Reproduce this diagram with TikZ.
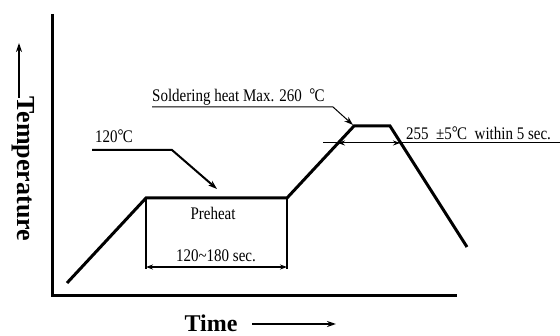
\documentclass[tikz,border=0pt]{standalone}
\usepackage{fontspec}
\setmainfont{Liberation Serif}
\usetikzlibrary{arrows.meta}
\newcommand{\degC}{\raisebox{0.1ex}{°}\kern-0.05em C}
\newcommand{\tall}[1]{\scalebox{1}[1.18]{#1}}
\begin{document}
\begin{tikzpicture}[x=1pt,y=-1pt,
  lbl/.style={inner sep=0pt,font=\fontsize{15}{15}\selectfont},
  bigl/.style={inner sep=0pt,font=\fontsize{24}{24}\selectfont\bfseries},
  axis/.style={line width=3pt},
  prof/.style={line width=3pt,line join=miter},
  lead/.style={line width=2pt},
  thin/.style={line width=1pt},
  tip/.style={-{Stealth[length=9pt,width=6pt]}},
  stip/.style={-{Stealth[length=7pt,width=5pt]}}]
\useasboundingbox (0,0) rectangle (560,336);
% axes
\coordinate (o) at (52,296);
\coordinate (ytop) at (52,14);
\coordinate (xend) at (457,296);
\draw[axis] (ytop) -- (o) -- (xend);
% profile
\coordinate (p0) at (67,283);
\coordinate (p1) at (146,198);
\coordinate (p2) at (287,198);
\coordinate (p3) at (354,126);
\coordinate (p4) at (390,126);
\coordinate (p5) at (467,247);
\draw[prof] (p0) -- (p1) -- (p2) -- (p3) -- (p4) -- (p5);
% preheat box
\coordinate (b1) at (146,269);
\coordinate (b2) at (287,269);
\draw[lead] (p1) -- (b1);
\draw[lead] (p2) -- (b2);
\coordinate (d1) at (146,267);
\coordinate (d2) at (287,267);
\coordinate (dm) at (216,267);
\draw[line width=1.3pt,stip] (dm) -- (d1);
\draw[line width=1.3pt,stip] (dm) -- (d2);
\node[lbl] (pre) at (213,213) {\tall{Preheat}};
\node[lbl] (dur) at (216,256) {\tall{120\textasciitilde180 sec.}};
% 120 C
\node[lbl,anchor=west] (t120) at (95,136) {\tall{120\degC}};
\coordinate (l1) at (92,150);
\coordinate (l2) at (172,150);
\coordinate (l3) at (217,189);
\draw[lead,tip] (l1) -- (l2) -- (l3);
% soldering
\node[lbl,anchor=west] (sold) at (152,97) {\tall{Soldering heat Max. 260 \ \degC}};
\coordinate (s1) at (152,107);
\coordinate (s2) at (333,107);
\coordinate (s3) at (353,125);
\draw[thin,tip] (s1) -- (s2) -- (s3);
% 255
\node[lbl,anchor=west] (t255) at (406,133) {\tall{255 \ ±5\degC\ \ within 5 sec.}};
\coordinate (h1) at (323,143);
\coordinate (h2) at (560,143);
\coordinate (hm) at (368,143);
\coordinate (hl) at (338,143);
\coordinate (hr) at (400,143);
\draw[thin] (h1) -- (h2);
\draw[thin,stip] (hm) -- (hl);
\draw[thin,stip] (hm) -- (hr);
% axis labels
\node[bigl,font=\fontsize{26}{26}\selectfont\bfseries,rotate=-90] (temp) at (23,169) {Temperature};
\coordinate (ta1) at (19,98);
\coordinate (ta2) at (19,43);
\draw[line width=2pt,tip] (ta1) -- (ta2);
\node[bigl] (time) at (211,323) {Time};
\coordinate (xa1) at (252,324);
\coordinate (xa2) at (336,324);
\draw[line width=2pt,tip] (xa1) -- (xa2);
\end{tikzpicture}
\end{document}
